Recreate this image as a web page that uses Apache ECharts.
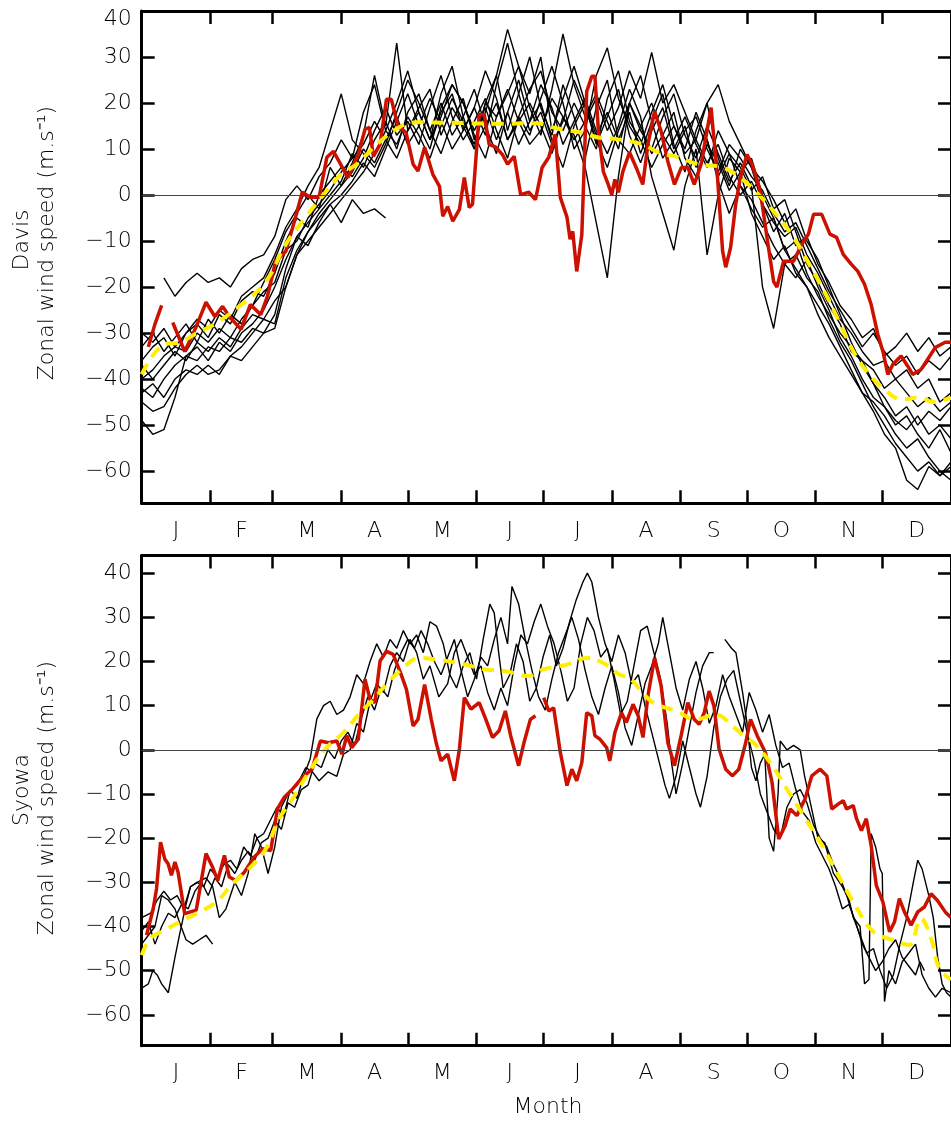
<!DOCTYPE html>
<html>
<head>
<meta charset="utf-8">
<script src="https://cdn.jsdelivr.net/npm/echarts@6/dist/echarts.min.js"></script>
<style>
html,body{margin:0;padding:0;background:#fff}
#chart{width:951px;height:1122px}
</style>
</head>
<body>
<div id="chart"></div>
<script>
// ---- axis definitions ----
const monthLetters = ['J','F','M','A','M','J','J','A','S','O','N','D'];
const monthEdges = [0,31,59,90,120,151,181,212,243,273,304,334,365];
const yTicks = [-60,-50,-40,-30,-20,-10,0,10,20,30,40];

// ---- Davis: individual years, 5-day samples from 1 Jan ----
const davisA = [null,null,-18,-22,-19,-17,-19,-18,-20,-16,
  -14,-13,-9,-1,2,-1,4,7,12,8,
  18,24,14,20,27,18,12,22,28,17,
  10,20,26,14,22,30,19,13,24,17,
  8,19,25,12,18,9,16,22,11,5,
  14,20,8,2,10,6,-2,-8,-4,-11,
  -9,-15,-19,-24,-27,-31,-29,-35,-33,-30,
  -34,-31,-35,-33];
const davisB = [-49,-52,-51,-44,-35,-33,-36,-32,-34,-30,
  -28,-25,-20,-14,-9,-6,-3,0,3,9,
  6,12,16,10,18,22,14,20,13,17,
  23,15,9,18,25,16,20,12,6,15,
  20,11,17,23,13,7,14,19,10,15,
  6,12,4,9,2,-3,-7,-5,-12,-16,
  -20,-24,-28,-33,-38,-43,-47,-52,-55,-62,
  -64,-59,-61,-58];
const davisC = [-45,-47,-46,-42,-39,-37,-39,-38,-35,-33,
  -30,-27,-28,-18,-12,-8,-4,-1,2,5,
  10,7,12,17,11,15,21,16,10,14,
  19,13,24,33,22,14,18,11,16,25,
  19,12,6,14,20,15,9,13,18,8,
  4,11,7,1,5,-4,-9,-14,-11,-17,
  -20,-26,-31,-35,-39,-43,-45,-48,-52,-55,
  -53,-57,-60,-62];
const davisD = [-36,-33,-31,-35,-30,-28,-31,-26,-28,-23,
  -21,-22,-17,-10,-5,-7,0,3,6,4,
  8,14,19,13,16,11,19,26,17,12,
  16,21,14,8,17,23,27,18,14,20,
  15,10,21,27,16,12,6,11,15,9,
  12,7,11,4,0,3,-2,-6,-9,-7,
  -13,-17,-22,-27,-30,-34,-37,-36,-40,-38,
  -42,-40,-45,-43];
const davisE = [-33,-30,-34,-31,-28,-32,-27,-30,-26,-28,
  -24,-19,-14,-8,-4,0,-3,6,2,7,
  13,26,15,33,14,18,12,17,24,20,
  13,8,17,22,28,19,13,23,35,24,
  17,22,16,10,20,26,16,8,12,17,
  11,6,14,9,6,1,4,-3,-1,-8,
  -15,-19,-24,-28,-34,-36,-41,-44,-48,-46,
  -50,-47,-49,-46];
const davisF = [-40,-38,-35,-33,-34,-30,-32,-29,-31,-27,
  -24,-21,-19,-12,-10,-5,-2,1,5,8,
  11,16,12,8,14,19,23,13,19,15,
  10,15,20,12,16,20,15,9,17,13,
  6,-6,-18,4,20,14,10,17,22,13,
  8,15,9,3,7,2,-20,-29,-15,-18,
  -14,-20,-25,-31,-35,-40,-44,-46,-49,-51,
  -48,-52,-50,-53];
const davisG = [-42,-44,-40,-37,-35,-36,-33,-34,-31,-32,
  -29,-30,-26,-16,-9,-11,-6,-2,0,3,
  7,4,10,16,22,15,10,19,24,20,
  14,19,12,18,11,16,24,19,11,16,
  21,14,9,15,23,17,4,-4,-12,2,
  10,-13,0,8,5,8,0,-5,-12,-10,
  -17,-22,-26,-30,-33,-36,-38,-42,-40,-43,
  -46,-44,-47,-45];
const davisH = [-30,-32,-29,-33,-30,-27,-29,-25,-27,-22,
  -20,-18,-13,-7,-3,2,6,14,22,12,
  9,6,11,18,25,20,14,9,16,21,
  12,18,26,36,28,22,30,14,21,28,
  20,13,18,12,9,15,20,13,9,14,
  17,10,5,11,8,4,1,-4,-8,-6,
  -11,-16,-21,-25,-29,-33,-30,-34,-37,-35,
  -39,-36,-38,-35];
const davisI = [-37,-40,-37,-34,-36,-32,-34,-31,-33,-29,
  -26,-27,-23,-20,-13,-8,-5,-2,-6,-1,
  -4,-3,-5,null,null,null,12,18,22,14,
  19,27,21,12,17,13,21,28,20,10,
  14,26,32,21,15,11,18,24,15,10,
  18,12,3,-4,2,-1,-6,-11,-15,-13,
  -18,-21,-27,-32,-36,-41,-46,-50,-54,-57,
  -60,-58,-61,-59];
const davisJ = [-43,-41,-44,-40,-38,-39,-37,-39,-35,-36,
  -33,-30,-29,-20,-13,-10,-7,-4,-1,2,
  5,9,14,11,17,13,8,15,21,16,
  11,20,17,23,16,11,14,21,17,12,
  16,21,14,19,27,21,31,20,24,18,
  12,20,24,16,11,6,3,-1,-6,-3,
  -10,-14,-20,-26,-32,-37,-41,-46,-50,-48,
  -52,-55,-51,-56];

// Davis: current year [day, m/s]
const davisCurrent = [[3,-33],[6,-28],[9,-24],[11,null],
  [14,-27.7],[19.4,-34],[24.6,-28.6],[29,-23.3],[33,-26.4],[36.5,-24.2],[39.5,-26.4],[44.8,-29.2],[49,-23.8],[53.7,-26],
  [56.7,-22],[60.4,-14.4],[65,-12.2],[69.4,-4.8],[72.4,0.6],[76,-0.5],[80,-0.5],[83.5,8.2],[86.5,9.5],[89,7.3],[93,3.8],
  [97.7,8.8],[100.7,14.3],[102.7,14.7],[104.5,8.4],[107.5,11],[110.4,20.8],[112.6,20.8],[115.6,14.9],[119.2,13.6],
  [122.4,6.7],[124.6,5.2],[127.6,10.4],[131.3,4.5],[134.3,1.9],[135.8,-4.6],[138,-2.5],[140.3,-5.7],[143.3,-3.1],
  [145.5,3.8],[147.7,-2.7],[149.2,-2],[152.2,17.5],[154.5,17.5],[156.7,11],[159.7,10.4],[162.7,8.8],[165,6.7],[168,8.4],
  [170.9,0.1],[174.6,0.6],[177.6,-1],[180.6,6],[183.6,8.2],[186.5,13.2],[188.8,-0.5],[191.8,-4.8],[193.2,-9.6],
  [194.4,-7.9],[196.2,-16.6],[198.5,-8.6],[200.7,22.5],[203,25.8],[204.4,25.8],[206,13.8],[208.2,5.1],[210.4,2.3],
  [212,0.1],[213.4,3.4],[215,0.6],[217,5.1],[220,9.3],[223,6],[226,2.3],[228.3,11],[231.3,18.2],[234.3,13.8],[237.3,7.3],
  [240.3,2.3],[243.4,6],[246.3,6],[249.2,2.3],[252.3,6.7],[256.8,19],[259.7,3.8],[262,-12.2],[263.4,-15.7],[265.6,-11.4],
  [267.9,-2],[270,3.8],[273,8.8],[275.3,6.7],[279,0.8],[282,-9.2],[285,-18.8],[286.5,-20],[289.5,-14.4],[294,-14.4],
  [297.7,-10.7],[300.7,-8.5],[303,-4.2],[306.7,-4.2],[310.4,-8.5],[313.4,-9.2],[316.4,-12.9],[320,-15],[323,-16.6],
  [326,-19.4],[329,-23.8],[332,-30.3],[334.3,-34],[336.5,-39],[338.8,-36.8],[342.5,-35],[345.5,-37.2],[347.7,-39],
  [351.5,-37.9],[355,-35.3],[358,-33.1],[362.4,-32],[365,-32]];

// Davis: climatological mean [day, m/s]
const davisMean = [[0,-39],[10,-32.5],[17,-32],[25,-30],[34,-27.7],[45,-23.8],[56,-18.8],[65,-10.7],[74,-4.8],
  [81,-0.5],[90,4.5],[97,6.7],[106,11],[116,14.7],[124,15.8],[140,15.7],[160,15.5],[178,15.6],[187,14.5],[198,13.6],
  [206,12.5],[215,12.1],[226,11],[233,9.3],[242,8.2],[251,6.7],[262,6],[270,3.8],[279,-0.3],[285,-3.5],[294,-9.2],
  [301,-15],[309,-22],[315,-28],[321,-34],[327,-38.3],[334,-41.8],[343,-44.4],[351,-44],[357,-45],[365,-44]];

// ---- Syowa: individual years [day, m/s] ----
const syowaA = [[0,-38],[4,-37],[7,-34],[10,-32],[13,-34],[16,-33],[19,-36],[22,-31],[25,-30],[29,-29],[32,-31],
  [35,-38],[38,-36],[42,-30],[45,-33],[48,-28],[51,-19],[54,-22],[57,-28],[60,-22],[63,-13],[66,-10],[70,-8],[74,-4],
  [77,-5],[80,-7],[84,-5],[88,-6],[91,-1],[94,0],[97,6],[100,4],[103,11],[106,15],[109,13],[112,19],[115,22],[118,20],
  [121,25],[124,22],[127,16],[130,19],[134,12],[138,15],[141,22],[144,25],[147,21],[150,17],[153,19],[156,13],[159,9],
  [162,14],[165,10],[168,19],[171,26],[174,24],[177,29],[180,33],[183,28],[186,24],[189,18],[192,11],[195,14],[198,24],
  [201,30],[204,27],[207,21],[210,23],[213,16],[216,8],[219,11],[222,19],[225,27],[228,28],[231,22],[234,16],[237,6],
  [239,-3],[241,-10],[244,-3],[247,5],[250,13],[253,19],[256,22],[258,22],[260,null],
  [263,25],[266,23],[268,22],[271,13],[273,6],[275,-4],[277,-7],[279,-3],[281,-1],[283,-20],[285,-23],[287,-10],[288,2],
  [291,0],[294,1],[297,0],[299,-6],[302,-13],[305,-20],[308,-21],[312,-28],[316,-31],[319,-34],[321,-38],[324,-40],
  [326,-53],[328,-52],[329,-19],[331,-22],[333,-27],[334,-28],[335,-57],[337,-50],[340,-53],[343,-48],[346,-46],
  [349,-44],[352,-51],[355,-54],[358,-56],[361,-54],[365,-55]];
const syowaB = [[0,-54],[3,-53],[5,-50],[7,-51],[9,-53],[12,-55],[15,-47],[17,-42],[20,-35],[22,-31],[25,-30],[28,-31],
  [31,-27],[34,-29],[37,-26],[40,-25],[43,-27],[46,-22],[49,-24],[52,-20],[55,-19],[58,-16],[61,-13],[64,-15],[67,-9],
  [70,-11],[73,-6],[76,-2],[79,7],[82,10],[85,11],[88,8],[91,9],[94,12],[97,17],[100,15],[103,20],[106,24],[109,21],
  [112,25],[115,23],[118,27],[121,24],[124,26],[127,22],[130,29],[133,28],[136,24],[139,17],[142,14],[145,19],[148,22],
  [151,16],[154,25],[157,33],[159,31],[161,22],[163,14],[166,17],[169,24],[172,20],[175,11],[178,14],[181,21],[184,26],
  [187,19],[190,23],[193,29],[196,34],[199,38],[201,40],[203,38],[206,30],[209,24],[212,20],[215,26],[218,22],[221,15],
  [224,17],[227,10],[230,4],[233,-2],[236,-8],[238,-11],[241,-6],[244,2],[247,-4],[250,-10],[252,-13],[255,-6],[258,5],
  [261,12],[264,16],[267,18],[270,11],[273,4],[276,-2],[279,-10],[282,-14],[285,-18],[288,-20],[291,-13],[294,-10],
  [297,-9],[300,-12],[303,-17],[306,-20],[309,-22],[312,-26],[315,-29],[318,-33],[321,-38],[324,-42],[327,-46],
  [330,-45],[333,-50],[336,-54],[339,-51],[342,-44],[345,-38],[348,-30],[350,-25],[352,-27],[355,-33],[357,-38],
  [359,-47],[361,-53],[363,-55],[365,-56]];
const syowaC = [[0,-44],[3,-42],[6,-40],[9,-33],[12,-34],[15,-36],[17,-39],[20,-43],[23,-44],[26,-43],[29,-42],[32,-44]];
const syowaD = [[0,-41],[3,-39],[6,-44],[9,-40],[12,-37],[15,-38],[18,-35],[21,-36],[24,-32],[27,-30],[30,-33],[33,-29],
  [36,-31],[39,-26],[42,-28],[45,-25],[48,-23],[51,-25],[54,-21],[57,-20],[60,-16],[63,-18],[66,-12],[69,-13],[72,-9],
  [75,-8],[78,-3],[81,-4],[84,0],[87,-2],[90,2],[93,4],[96,1],[99,7],[102,12],[105,9],[108,14],[111,12],[114,18],
  [117,22],[120,25],[123,23],[126,27],[129,24],[132,20],[135,17],[138,21],[141,25],[144,18],[147,12],[150,16],[153,21],
  [156,19],[159,25],[162,30],[165,24],[167,37],[170,33],[173,25],[176,18],[179,12],[182,9],[185,16],[188,22],[191,26],
  [194,30],[197,25],[200,18],[203,12],[206,8],[209,14],[212,19],[215,13],[218,5],[221,1],[224,8],[227,15],[230,19],
  [233,24],[235,30],[238,22],[241,14],[244,9],[247,16],[250,20],[253,14],[256,6],[259,10],[262,17],[265,12],[268,8],
  [271,4],[274,13],[277,9],[280,4],[283,8],[286,1],[289,-4],[292,-3],[295,-9],[298,-14],[301,-16],[304,-21],[307,-24],
  [310,-27],[313,-31],[316,-36],[319,-35],[322,-39],[325,-44],[328,-47],[331,-50],[334,-48],[337,-45],[340,-43],
  [343,-47],[346,-49],[349,-51],[351,-48],[353,-50]];

// Syowa: current year [day, m/s]
const syowaCurrent = [[2.2,-42],[5.2,-36],[6.7,-31.4],[8.5,-20.9],[10.4,-24.7],[11.9,-25.8],[13.4,-28.4],[15,-25.4],
  [16.4,-27.7],[19.4,-37.1],[24.6,-36.3],[29,-23.5],[32,-26.6],[34.3,-29.6],[37.3,-23.9],[39.5,-28.8],[42.5,-29.6],
  [46.3,-27.7],[50.7,-24.3],[54.5,-22.4],[58.2,-22.8],[61.2,-13.4],[64.2,-10.8],[68,-8.9],[72.4,-6.3],[76.8,-4.4],
  [80.6,2],[84.3,1.6],[88,2],[90.3,-1],[92.5,3.2],[94.7,0.5],[97.7,2.4],[100.7,16],[103,11.4],[105.2,10.7],[107.5,20.1],
  [110.4,22.3],[113.4,21.6],[117,17.1],[119.4,13.7],[122.4,5.4],[124.6,6.9],[127.6,14.8],[130.6,6.9],[132.8,1.6],
  [135,-2.5],[138,-1],[141,-7],[143.3,0.2],[145.5,11.8],[148.5,9.2],[152.2,10.7],[155.2,6.9],[158.2,2.8],[161.2,4.3],
  [164,8.8],[166.4,3.2],[170,-3.6],[172.4,1.6],[175.3,6.9],[177.6,7.7],[179.5,null],[181.3,11.8],[183.6,8.8],
  [185.8,9.5],[188.8,-0.6],[191.8,-8.1],[194,-4.4],[196.2,-7],[198.5,-2.9],[200.7,8.4],[203,7.7],[204.4,3.2],
  [206.7,2.4],[209.7,0.5],[211.1,-2.5],[213.4,3.9],[216.4,8.4],[218.6,6.2],[221.6,10.3],[223.9,7.7],[226.1,2.8],
  [228.3,12.2],[231.3,20.8],[234.3,14.4],[237.3,1.6],[240.3,-3.6],[243.4,3.5],[246.3,10.7],[249.2,6.9],[251.4,5.8],
  [253.7,8.4],[255.9,13.3],[258.1,9.9],[260.4,0.2],[263.4,-4.4],[266.4,-5.9],[269.3,-4.4],[272.4,1.6],[274.6,6.9],
  [277.6,3.2],[281.3,-0.6],[284.3,-7.4],[287.3,-20.2],[290.2,-17.2],[292.5,-13.4],[295.5,-14.9],[299.2,-11.1],
  [302.2,-5.9],[306,-4.4],[309,-5.9],[311.2,-13.4],[314.1,-12.3],[316.4,-11.5],[317.9,-13.4],[320.9,-12.6],
  [322.4,-15.6],[324.6,-18.3],[326.8,-15.6],[329,-21.7],[331.3,-30.7],[334.3,-34.5],[337.3,-41.2],[339.5,-39],
  [341.7,-33.7],[344,-36.7],[347,-39.7],[350,-36.7],[353,-35.6],[356,-32.6],[358.9,-34.1],[362.4,-36.7],[365,-38]];

// Syowa: climatological mean [day, m/s]
const syowaMean = [[0,-46.5],[4,-42.7],[10,-40.9],[17,-39],[24.5,-37.1],[33.6,-34.5],[41,-30.3],[48.5,-26.9],
  [56,-22.4],[62,-15.6],[68,-11.1],[75.3,-5.1],[82.8,0.2],[91,3.9],[98.5,8.4],[104.5,11.4],[111,15.2],[118,18.6],
  [125,20.8],[134,20.4],[146,19.3],[155,18.2],[164,17.8],[174.6,16.7],[181,18.2],[191.8,19.3],[200.7,20.8],[208,19.7],
  [215.6,17],[220,16.3],[224.6,13.7],[230.6,10.7],[241,8.8],[250,6.9],[259,8],[266.4,5.4],[272.4,2.8],[276,1.6],
  [283.5,-2.9],[291,-8.9],[298.5,-14.9],[306,-20.9],[313.4,-27.7],[321,-34.5],[330,-41.2],[339,-43.1],[346,-44.2],
  [351.4,-38.2],[356,-42.7],[359.7,-49.5],[365,-52]];

// ---- helpers ----
const FONT = '"DejaVu Sans", sans-serif';
const FS = 22;
const FW = 200;
const monthMids = monthLetters.map((m, i) => (monthEdges[i] + monthEdges[i + 1]) / 2);
const days5 = [];
for (let d = 0; d <= 365; d += 5) days5.push(d);

function gap(v) { return v === null ? '-' : v; }
function fromDays(values) { return values.map((v, k) => [days5[k], gap(v)]); }
function fromPairs(pairs) { return pairs.map(p => [p[0], gap(p[1])]); }
function monthLabel(v) {
  let best = 0;
  monthMids.forEach((m, i) => { if (Math.abs(m - v) < Math.abs(monthMids[best] - v)) best = i; });
  return monthLetters[best];
}
function signed(v) { return v < 0 ? '\u2212' + Math.abs(v) : String(v); }
// the label at the very top edge of a panel sits a little lower, inside the frame
function signedTop(hi) {
  return v => (v === hi ? '{top|' + signed(v) + '}' : signed(v));
}

const tickStyle = { color: '#000', width: 2.5 };
const lineStyleAxis = { color: '#000', width: 3 };

function xAxes(g) {
  return [
    { gridIndex: g, type: 'value', min: 0, max: 365, position: 'bottom',
      axisLine: { show: true, onZero: false, lineStyle: lineStyleAxis },
      axisTick: { show: true, inside: true, length: 13, lineStyle: tickStyle, customValues: monthEdges },
      axisLabel: { show: true, customValues: monthMids, formatter: monthLabel, margin: 17,
        fontSize: FS, fontFamily: FONT, fontWeight: FW, color: '#000' },
      splitLine: { show: false } },
    { gridIndex: g, type: 'value', min: 0, max: 365, position: 'top',
      axisLine: { show: true, onZero: false, lineStyle: lineStyleAxis },
      axisTick: { show: true, inside: true, length: 13, lineStyle: tickStyle, customValues: monthEdges },
      axisLabel: { show: false }, splitLine: { show: false } }
  ];
}
function yAxes(g, lo, hi) {
  return [
    { gridIndex: g, type: 'value', min: lo, max: hi, position: 'left',
      axisLine: { show: true, onZero: false, lineStyle: lineStyleAxis },
      axisTick: { show: true, inside: true, length: 13, lineStyle: tickStyle, customValues: yTicks },
      axisLabel: { show: true, customValues: yTicks, formatter: signedTop(hi), margin: 10,
        fontSize: FS, fontFamily: FONT, fontWeight: FW, color: '#000',
        rich: { top: { fontSize: FS, fontFamily: FONT, fontWeight: FW, color: '#000', padding: [16, 0, 0, 0] } } },
      splitLine: { show: false } },
    { gridIndex: g, type: 'value', min: lo, max: hi, position: 'right',
      axisLine: { show: true, onZero: false, lineStyle: lineStyleAxis },
      axisTick: { show: true, inside: true, length: 13, lineStyle: tickStyle, customValues: yTicks },
      axisLabel: { show: false }, splitLine: { show: false } }
  ];
}

function blackLine(g, data, withZero) {
  const s = { type: 'line', xAxisIndex: g * 2, yAxisIndex: g * 2, data: data,
    showSymbol: false, symbol: 'none', connectNulls: false, z: 2,
    lineStyle: { color: '#000', width: 1.4 } };
  if (withZero) {
    s.markLine = { silent: true, symbol: 'none', label: { show: false }, animation: false,
      lineStyle: { color: '#444', width: 1, type: 'solid' }, data: [{ yAxis: 0 }] };
  }
  return s;
}
function currentLine(g, data) {
  return { type: 'line', xAxisIndex: g * 2, yAxisIndex: g * 2, data: data,
    showSymbol: false, symbol: 'none', connectNulls: false, z: 3,
    lineStyle: { color: '#cc1100', width: 3.5 } };
}
function meanLine(g, data) {
  return { type: 'line', xAxisIndex: g * 2, yAxisIndex: g * 2, data: data, smooth: 0.4,
    showSymbol: false, symbol: 'none', z: 4,
    lineStyle: { color: '#ffee00', width: 4, type: [12, 8] } };
}

const davisYears = [davisA, davisB, davisC, davisD, davisE, davisF, davisG, davisH, davisI, davisJ];
const syowaYears = [syowaA, syowaB, syowaC, syowaD];

const series = [];
davisYears.forEach((arr, i) => series.push(blackLine(0, fromDays(arr), i === 0)));
series.push(currentLine(0, fromPairs(davisCurrent)));
series.push(meanLine(0, fromPairs(davisMean)));
syowaYears.forEach((arr, i) => series.push(blackLine(1, fromPairs(arr), i === 0)));
series.push(currentLine(1, fromPairs(syowaCurrent)));
series.push(meanLine(1, fromPairs(syowaMean)));

const textFont = FW + ' ' + FS + 'px ' + FONT;
const chart = echarts.init(document.getElementById('chart'), null, { renderer: 'canvas' });
chart.setOption({
  animation: false,
  backgroundColor: '#fff',
  grid: [
    { left: 141.7, top: 11, width: 815, height: 492.3 },
    { left: 141.7, top: 555.5, width: 815, height: 490.2 }
  ],
  xAxis: [...xAxes(0), ...xAxes(1)],
  yAxis: [...yAxes(0, -67, 40), ...yAxes(1, -67, 44)],
  series: series,
  graphic: [
    { type: 'text', x: 22, y: 240, rotation: Math.PI / 2,
      style: { text: 'Davis', font: textFont, fill: '#000', align: 'center', verticalAlign: 'middle' } },
    { type: 'text', x: 47, y: 243, rotation: Math.PI / 2,
      style: { text: 'Zonal wind speed (m.s\u207B\u00B9)', font: textFont, fill: '#000', align: 'center', verticalAlign: 'middle' } },
    { type: 'text', x: 22, y: 790, rotation: Math.PI / 2,
      style: { text: 'Syowa', font: textFont, fill: '#000', align: 'center', verticalAlign: 'middle' } },
    { type: 'text', x: 47, y: 798, rotation: Math.PI / 2,
      style: { text: 'Zonal wind speed (m.s\u207B\u00B9)', font: textFont, fill: '#000', align: 'center', verticalAlign: 'middle' } },
    { type: 'text', x: 548, y: 1107,
      style: { text: 'Month', font: textFont, fill: '#000', align: 'center', verticalAlign: 'middle' } }
  ]
});
</script>
</body>
</html>
